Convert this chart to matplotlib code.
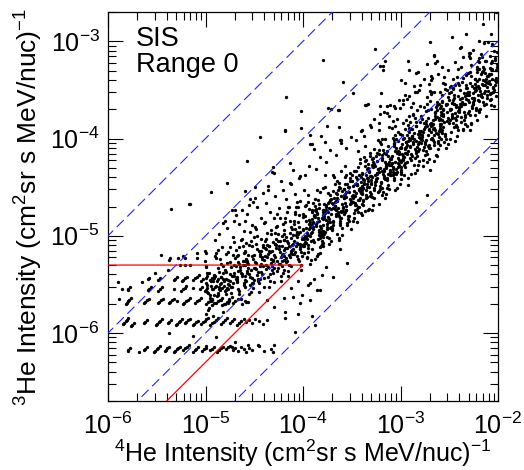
import matplotlib
matplotlib.use("Agg")
import matplotlib.pyplot as plt
import numpy as np
from matplotlib.ticker import LogLocator, NullFormatter

# all intensities below are log10 values x 100
# quantised low-count rows (3He floor)
floor_pts = [
    (-580, -618), (-579, -617), (-577, -615), (-568, -620), (-563, -617), (-562, -616), (-560, -614),
    (-553, -619), (-552, -618), (-550, -616), (-549, -615), (-547, -613), (-542, -618), (-541, -617),
    (-539, -615), (-537, -614), (-532, -619), (-531, -618), (-529, -616), (-528, -615), (-526, -614),
    (-523, -617), (-521, -615), (-519, -614), (-517, -612), (-513, -619), (-511, -617), (-510, -616),
    (-508, -614), (-504, -618), (-502, -616), (-500, -615), (-499, -613), (-495, -617), (-493, -616),
    (-491, -614), (-488, -619), (-486, -617), (-484, -615), (-482, -614), (-479, -616), (-477, -614),
    (-475, -613), (-472, -617), (-470, -615), (-467, -618), (-464, -614), (-461, -616), (-458, -619),
    (-455, -615), (-452, -617), (-445, -613), (-440, -618), (-433, -616), (-431, -619),
    (-537, -600), (-513, -603), (-489, -604), (-470, -609),
]
row1_pts = [
    (-585, -591), (-584, -590), (-582, -588), (-581, -587), (-579, -585), (-576, -593), (-575, -592),
    (-573, -590), (-563, -590), (-562, -589), (-560, -587), (-551, -592), (-550, -591), (-548, -589),
    (-547, -588), (-545, -586), (-538, -590), (-537, -589), (-535, -587), (-530, -592), (-529, -591),
    (-527, -589), (-526, -588), (-524, -586), (-521, -590), (-520, -589), (-518, -587), (-516, -586),
    (-513, -592), (-512, -591), (-510, -589), (-508, -588), (-505, -591), (-503, -589), (-501, -588),
    (-499, -586), (-497, -585), (-495, -592), (-493, -590), (-491, -589), (-489, -587), (-487, -585),
    (-484, -591), (-482, -589), (-480, -587), (-478, -585), (-475, -590), (-473, -588), (-471, -586),
    (-468, -592), (-466, -590), (-464, -588), (-461, -586), (-458, -589), (-455, -587), (-452, -590),
    (-449, -586), (-445, -588), (-441, -591), (-437, -587),
]
row2_pts = [
    (-582, -570), (-581, -569), (-579, -567), (-578, -566), (-576, -564), (-563, -569), (-562, -568),
    (-560, -566), (-558, -565), (-549, -569), (-548, -568), (-546, -566), (-544, -565), (-537, -569),
    (-536, -568), (-534, -566), (-532, -565), (-529, -567), (-523, -570), (-522, -569), (-520, -567),
    (-518, -566), (-516, -564), (-511, -569), (-509, -567), (-507, -566), (-505, -564), (-499, -570),
    (-497, -568), (-495, -567), (-493, -565), (-489, -569), (-487, -567), (-485, -566), (-483, -564),
    (-480, -570), (-478, -568), (-476, -566), (-472, -569), (-470, -567), (-467, -565), (-463, -570),
    (-460, -567), (-456, -568),
    (-580, -556), (-579, -555), (-577, -553), (-559, -556), (-558, -555), (-556, -553), (-549, -557),
    (-547, -555), (-545, -553), (-532, -555), (-525, -557), (-523, -555), (-521, -554), (-520, -552),
    (-513, -554), (-506, -555), (-504, -553), (-501, -557), (-500, -556), (-498, -554), (-492, -555),
    (-490, -553), (-485, -556), (-483, -554), (-481, -552), (-477, -555), (-474, -553),
    (-559, -544), (-558, -543), (-549, -545), (-547, -543), (-532, -545), (-531, -544), (-529, -542),
    (-524, -546), (-523, -545), (-521, -543), (-519, -542), (-513, -545), (-511, -543), (-509, -542),
    (-507, -540), (-505, -546), (-503, -544), (-500, -543), (-498, -541), (-495, -545), (-493, -543),
    (-491, -542), (-487, -544), (-484, -542),
    (-537, -525), (-528, -523), (-509, -523), (-501, -526), (-538, -535), (-521, -530), (-552, -538),
    (-516, -530), (-546, -520), (-565, -548), (-589, -565), (-586, -555), (-590, -548),
]

band_low = [
    (-498, -551), (-493, -566), (-491, -540), (-496, -574), (-494, -547), (-499, -532), (-492, -583),
    (-497, -559), (-490, -521), (-495, -561), (-498, -538), (-491, -569),
    (-482, -544), (-487, -561), (-484, -529), (-489, -552), (-481, -570), (-486, -537), (-483, -512),
    (-488, -546), (-480, -557), (-485, -524), (-482, -578), (-487, -533), (-484, -549), (-489, -518),
    (-473, -541), (-478, -554), (-471, -530), (-476, -567), (-479, -537), (-472, -549), (-475, -512),
    (-477, -545), (-470, -523), (-474, -559), (-478, -528), (-471, -506), (-476, -551), (-473, -563),
    (-479, -519), (-475, -539),
    (-465, -532), (-461, -549), (-468, -521), (-463, -541), (-466, -557), (-460, -526), (-469, -544),
    (-462, -510), (-467, -536), (-464, -565), (-461, -518), (-468, -547), (-463, -503), (-466, -529),
    (-460, -553), (-469, -515), (-464, -538), (-462, -526),
    (-456, -529), (-452, -543), (-459, -517), (-454, -551), (-451, -524), (-457, -538), (-453, -505),
    (-458, -547), (-450, -533), (-455, -560), (-452, -511), (-457, -526), (-454, -496), (-459, -541),
    (-451, -549), (-456, -520), (-453, -535), (-458, -507), (-450, -545),
    (-444, -521), (-448, -534), (-441, -512), (-446, -547), (-449, -527), (-442, -539), (-447, -500),
    (-443, -529), (-445, -516), (-440, -553), (-448, -508), (-442, -522), (-446, -537), (-449, -491),
    (-441, -531), (-444, -544), (-447, -514), (-443, -503), (-440, -525), (-445, -558),
    (-434, -517), (-438, -530), (-431, -506), (-436, -542), (-439, -521), (-432, -535), (-437, -497),
    (-433, -524), (-435, -511), (-430, -548), (-438, -503), (-432, -516), (-436, -532), (-439, -486),
    (-431, -526), (-434, -539), (-437, -509), (-433, -494), (-430, -520), (-435, -553), (-438, -514),
    (-425, -511), (-429, -522), (-422, -500), (-427, -536), (-420, -515), (-424, -529), (-428, -491),
    (-421, -519), (-426, -505), (-423, -541), (-429, -497), (-422, -510), (-427, -526), (-424, -482),
    (-420, -521), (-426, -533), (-428, -503), (-421, -488), (-425, -514), (-423, -547), (-429, -508),
    (-422, -531),
    (-416, -505), (-412, -518), (-419, -494), (-414, -530), (-411, -509), (-417, -523), (-413, -485),
    (-418, -513), (-410, -499), (-415, -536), (-412, -491), (-419, -504), (-414, -520), (-416, -476),
    (-411, -515), (-417, -527), (-413, -497), (-418, -482), (-410, -508), (-415, -541), (-412, -502),
    (-419, -525), (-414, -470),
    (-407, -499), (-403, -512), (-409, -488), (-405, -524), (-401, -503), (-408, -517), (-404, -479),
    (-406, -507), (-400, -493), (-402, -530), (-409, -485), (-405, -498), (-403, -514), (-407, -470),
    (-401, -509), (-406, -521), (-404, -491), (-408, -476), (-400, -502), (-402, -535), (-406, -496),
    (-409, -519), (-403, -464), (-405, -508),
    # second pass over the dense cluster
    (-498, -558), (-491, -543), (-494, -567), (-499, -531), (-497, -576), (-494, -552), (-495, -564),
    (-492, -546), (-500, -580), (-493, -555), (-496, -538), (-493, -571), (-500, -549), (-491, -561),
    (-490, -541), (-486, -555), (-482, -531), (-484, -566), (-485, -550), (-487, -559), (-489, -523),
    (-483, -571), (-481, -546), (-488, -562), (-482, -538), (-487, -515), (-486, -553), (-484, -542),
    (-475, -547), (-474, -532), (-479, -556), (-472, -520), (-476, -565), (-471, -541), (-473, -553),
    (-480, -535), (-477, -569), (-479, -544), (-475, -527), (-479, -560), (-471, -538), (-477, -550),
    (-462, -530), (-468, -544), (-467, -520), (-467, -555), (-463, -539), (-468, -548), (-466, -512),
    (-466, -560), (-465, -535), (-461, -551), (-467, -527), (-464, -504), (-468, -542), (-469, -531),
    (-457, -536), (-452, -521), (-460, -545), (-455, -509), (-451, -554), (-459, -530), (-454, -542),
    (-458, -524), (-453, -558), (-456, -533), (-460, -516), (-452, -549), (-457, -527), (-455, -539),
    (-444, -519), (-449, -533), (-441, -509), (-446, -544), (-448, -528), (-443, -537), (-450, -501),
    (-445, -549), (-442, -524), (-447, -540), (-443, -516), (-448, -493), (-444, -531), (-450, -520),
    (-431, -525), (-435, -510), (-438, -534), (-433, -498), (-440, -543), (-436, -519), (-432, -531),
    (-439, -513), (-434, -547), (-437, -522), (-439, -505), (-431, -538), (-435, -516), (-433, -528),
    (-429, -508), (-423, -522), (-426, -498), (-430, -533), (-424, -517), (-422, -526), (-427, -490),
    (-421, -538), (-428, -513), (-425, -529), (-424, -505), (-430, -482), (-422, -520), (-428, -509),
    (-416, -513), (-420, -498), (-413, -522), (-418, -486), (-412, -531), (-415, -507), (-411, -519),
    (-417, -501), (-419, -535), (-414, -510), (-411, -493), (-416, -526), (-419, -504), (-412, -516),
    (-403, -496), (-407, -510), (-405, -486), (-401, -521), (-409, -505), (-410, -514), (-408, -478),
    (-404, -526), (-406, -501), (-402, -517), (-408, -493), (-405, -470), (-403, -508), (-406, -497),
]

band_mid = [
    (-397, -492), (-392, -505), (-400, -481), (-395, -517), (-391, -496), (-399, -510), (-394, -472),
    (-398, -500), (-393, -486), (-396, -523), (-400, -478), (-392, -491), (-397, -507), (-395, -465),
    (-399, -503), (-391, -514), (-394, -484), (-398, -469), (-396, -497), (-393, -529), (-392, -489),
    (-400, -511), (-395, -458), (-397, -501), (-391, -476),
    (-384, -494), (-389, -479), (-381, -505), (-386, -486), (-388, -469), (-383, -512), (-390, -491),
    (-385, -482), (-382, -500), (-387, -475), (-383, -518), (-388, -462), (-384, -496), (-390, -487),
    (-381, -508), (-386, -453), (-389, -480), (-382, -492), (-385, -503), (-387, -472), (-388, -524),
    (-384, -485), (-390, -466), (-381, -498), (-386, -477), (-383, -490),
    (-371, -478), (-375, -491), (-378, -467), (-373, -502), (-380, -474), (-376, -484), (-372, -458),
    (-379, -495), (-374, -481), (-377, -450), (-379, -507), (-371, -472), (-375, -488), (-373, -465),
    (-378, -498), (-374, -476), (-380, -511), (-376, -470), (-372, -486), (-377, -438), (-375, -493),
    (-371, -462), (-373, -483), (-379, -479), (-380, -501), (-378, -473),
    (-369, -467), (-363, -480), (-366, -456), (-370, -492), (-364, -471), (-362, -485), (-367, -447),
    (-361, -475), (-368, -461), (-365, -498), (-364, -453), (-370, -466), (-362, -482), (-368, -440),
    (-366, -478), (-369, -489), (-361, -459), (-365, -444), (-367, -472), (-363, -504), (-366, -464),
    (-369, -486), (-361, -433), (-364, -476), (-362, -451), (-367, -469),
    (-356, -469), (-360, -454), (-353, -480), (-358, -461), (-352, -444), (-355, -487), (-351, -466),
    (-357, -457), (-359, -475), (-354, -450), (-351, -493), (-356, -437), (-359, -471), (-352, -462),
    (-354, -483), (-357, -428), (-353, -455), (-360, -467), (-358, -478), (-355, -447), (-360, -499),
    (-357, -460), (-352, -441), (-356, -473), (-358, -452), (-351, -465),
    (-343, -453), (-347, -466), (-345, -442), (-341, -477), (-349, -449), (-350, -459), (-348, -433),
    (-344, -470), (-346, -456), (-342, -425), (-348, -482), (-345, -447), (-343, -463), (-346, -440),
    (-347, -473), (-342, -451), (-345, -486), (-341, -445), (-349, -461), (-344, -413), (-347, -468),
    (-343, -437), (-349, -458), (-342, -454), (-344, -476), (-345, -448),
    (-338, -442), (-331, -455), (-334, -431), (-339, -467), (-337, -446), (-334, -460), (-335, -422),
    (-332, -450), (-340, -436), (-333, -473), (-336, -428), (-333, -441), (-340, -457), (-331, -415),
    (-335, -453), (-338, -464), (-332, -434), (-337, -419), (-334, -447), (-340, -479), (-331, -439),
    (-335, -461), (-336, -408), (-338, -451), (-333, -426),
    (-330, -443), (-326, -428), (-322, -454), (-324, -435), (-325, -418), (-327, -461), (-329, -440),
    (-323, -431), (-321, -449), (-328, -424), (-322, -467), (-327, -411), (-326, -445), (-324, -436),
    (-330, -457), (-323, -402), (-328, -429), (-324, -441), (-321, -452), (-329, -421), (-329, -473),
    (-322, -434), (-324, -415), (-330, -447), (-327, -426),
    (-315, -428), (-314, -441), (-319, -417), (-312, -452), (-316, -424), (-311, -434), (-313, -408),
    (-320, -445), (-317, -431), (-319, -400), (-315, -457), (-319, -422), (-311, -438), (-317, -415),
    (-313, -448), (-315, -426), (-316, -461), (-319, -420), (-313, -436), (-312, -388), (-314, -443),
    (-318, -412), (-317, -433), (-315, -429), (-319, -451),
    (-302, -416), (-308, -429), (-307, -405), (-307, -441), (-303, -420), (-308, -434), (-306, -396),
    (-306, -424), (-305, -410), (-301, -447), (-307, -402), (-304, -415), (-308, -431), (-309, -389),
    (-302, -427), (-310, -438), (-307, -408), (-303, -393), (-310, -421), (-306, -453), (-303, -413),
    (-306, -435), (-308, -382), (-303, -425), (-305, -400),
    # second pass
    (-393, -500), (-397, -485), (-395, -509), (-391, -473), (-399, -518), (-400, -494), (-398, -506),
    (-394, -488), (-396, -522), (-392, -497), (-398, -480), (-395, -513), (-393, -491), (-396, -503),
    (-397, -468), (-392, -525), (-395, -499), (-391, -483), (-399, -508), (-394, -493),
    (-388, -481), (-381, -495), (-384, -471), (-389, -506), (-387, -490), (-384, -499), (-385, -463),
    (-382, -511), (-390, -486), (-383, -502), (-386, -478), (-383, -455), (-390, -493), (-381, -482),
    (-385, -519), (-388, -474), (-382, -497), (-387, -488), (-384, -467), (-390, -504),
    (-380, -483), (-376, -468), (-372, -492), (-374, -456), (-375, -501), (-377, -477), (-379, -489),
    (-373, -471), (-371, -505), (-378, -480), (-372, -463), (-377, -496), (-376, -474), (-374, -486),
    (-380, -451), (-373, -508), (-378, -482), (-374, -466), (-371, -491), (-379, -476),
    (-365, -464), (-364, -478), (-369, -454), (-362, -489), (-366, -473), (-361, -482), (-363, -446),
    (-370, -494), (-367, -469), (-369, -485), (-365, -461), (-369, -438), (-361, -476), (-367, -465),
    (-363, -502), (-365, -457), (-366, -480), (-369, -471), (-363, -450), (-362, -487),
    (-352, -467), (-358, -452), (-357, -476), (-357, -440), (-353, -485), (-358, -461), (-356, -473),
    (-356, -455), (-355, -489), (-351, -464), (-357, -447), (-354, -480), (-358, -458), (-359, -470),
    (-352, -435), (-360, -492), (-357, -466), (-353, -450), (-360, -475), (-356, -460),
    (-347, -447), (-342, -461), (-350, -437), (-345, -472), (-341, -456), (-349, -465), (-344, -429),
    (-348, -477), (-343, -452), (-346, -468), (-350, -444), (-342, -421), (-347, -459), (-345, -448),
    (-349, -485), (-341, -440), (-344, -463), (-348, -454), (-346, -433), (-343, -470),
    (-334, -450), (-339, -435), (-331, -459), (-336, -423), (-338, -468), (-333, -444), (-340, -456),
    (-335, -438), (-332, -472), (-337, -447), (-333, -430), (-338, -463), (-334, -441), (-340, -453),
    (-331, -418), (-336, -475), (-339, -449), (-332, -433), (-335, -458), (-337, -443),
    (-321, -430), (-325, -444), (-328, -420), (-323, -455), (-330, -439), (-326, -448), (-322, -412),
    (-329, -460), (-324, -435), (-327, -451), (-329, -427), (-321, -404), (-325, -442), (-323, -431),
    (-328, -468), (-324, -423), (-330, -446), (-326, -437), (-322, -416), (-327, -453),
    (-319, -433), (-313, -418), (-316, -442), (-320, -406), (-314, -451), (-312, -427), (-317, -439),
    (-311, -421), (-318, -455), (-315, -430), (-314, -413), (-320, -446), (-312, -424), (-318, -436),
    (-316, -401), (-319, -458), (-311, -432), (-315, -416), (-317, -441), (-313, -426),
    (-306, -413), (-310, -427), (-303, -403), (-308, -438), (-302, -422), (-305, -431), (-301, -395),
    (-307, -443), (-309, -418), (-304, -434), (-301, -410), (-306, -387), (-309, -425), (-302, -414),
    (-304, -451), (-307, -406), (-303, -429), (-310, -420), (-308, -399), (-305, -436),
]

band_high = [
    (-297, -418), (-292, -403), (-300, -429), (-295, -410), (-291, -393), (-299, -436), (-294, -415),
    (-298, -406), (-293, -424), (-296, -399), (-300, -442), (-292, -386), (-297, -420), (-295, -411),
    (-299, -432), (-291, -377), (-294, -404), (-298, -416), (-296, -427), (-293, -396), (-292, -448),
    (-300, -409), (-295, -390), (-297, -422),
    (-284, -403), (-289, -416), (-281, -392), (-286, -427), (-288, -399), (-283, -409), (-290, -383),
    (-285, -420), (-282, -406), (-287, -375), (-283, -432), (-288, -397), (-284, -413), (-290, -390),
    (-281, -423), (-286, -401), (-289, -436), (-282, -395), (-285, -411), (-287, -363), (-288, -418),
    (-284, -387), (-290, -408), (-281, -404),
    (-271, -391), (-275, -404), (-278, -380), (-273, -416), (-280, -395), (-276, -409), (-272, -371),
    (-279, -399), (-274, -385), (-277, -422), (-279, -377), (-271, -390), (-275, -406), (-273, -364),
    (-278, -402), (-274, -413), (-280, -383), (-276, -368), (-272, -396), (-277, -428), (-275, -388),
    (-271, -410), (-273, -357), (-279, -400),
    (-269, -393), (-263, -378), (-266, -404), (-270, -385), (-264, -368), (-262, -411), (-267, -390),
    (-261, -381), (-268, -399), (-265, -374), (-264, -417), (-270, -361), (-262, -395), (-268, -386),
    (-266, -407), (-269, -352), (-261, -379), (-265, -391), (-267, -402), (-263, -371), (-266, -423),
    (-269, -384), (-261, -365),
    (-256, -377), (-260, -390), (-253, -366), (-258, -401), (-252, -373), (-255, -383), (-251, -357),
    (-257, -394), (-259, -380), (-254, -349), (-251, -406), (-256, -371), (-259, -387), (-252, -364),
    (-254, -397), (-257, -375), (-253, -410), (-260, -369), (-258, -385), (-255, -337), (-260, -392),
    (-257, -361),
    (-243, -366), (-247, -379), (-245, -355), (-241, -391), (-249, -370), (-250, -384), (-248, -346),
    (-244, -374), (-246, -360), (-242, -397), (-248, -352), (-245, -365), (-243, -381), (-246, -339),
    (-247, -377), (-242, -388), (-245, -358), (-241, -343), (-249, -371), (-244, -403), (-247, -363),
    (-238, -367), (-231, -352), (-234, -378), (-239, -359), (-237, -342), (-234, -385), (-235, -364),
    (-232, -355), (-240, -373), (-233, -348), (-236, -391), (-233, -335), (-240, -369), (-231, -360),
    (-235, -381), (-238, -326), (-232, -353), (-237, -365), (-234, -376), (-240, -345),
    (-230, -352), (-226, -365), (-222, -341), (-224, -376), (-225, -348), (-227, -358), (-229, -332),
    (-223, -369), (-221, -355), (-228, -324), (-222, -381), (-227, -346), (-226, -362), (-224, -339),
    (-230, -372), (-223, -350), (-228, -385), (-224, -344), (-221, -360), (-229, -312),
    (-215, -340), (-214, -353), (-219, -329), (-212, -365), (-216, -344), (-211, -358), (-213, -320),
    (-220, -348), (-217, -334), (-219, -371), (-215, -326), (-219, -339), (-211, -355), (-217, -313),
    (-213, -351), (-215, -362), (-216, -332), (-219, -317), (-213, -345), (-212, -377),
    (-202, -342), (-208, -327), (-207, -353), (-207, -334), (-203, -317), (-208, -360), (-206, -339),
    (-206, -330), (-205, -348), (-201, -323), (-207, -366), (-204, -310), (-208, -344), (-209, -335),
    (-202, -356), (-210, -301), (-207, -328), (-203, -340), (-210, -351), (-206, -320),
    # second pass
    (-293, -416), (-297, -401), (-295, -425), (-291, -389), (-299, -434), (-300, -410), (-298, -422),
    (-294, -404), (-296, -438), (-292, -413), (-298, -396), (-295, -429), (-293, -407), (-296, -419),
    (-297, -384), (-292, -441), (-295, -415), (-291, -399), (-299, -424), (-294, -409),
    (-288, -397), (-281, -411), (-284, -387), (-289, -422), (-287, -406), (-284, -415), (-285, -379),
    (-282, -427), (-290, -402), (-283, -418), (-286, -394), (-283, -371), (-290, -409), (-281, -398),
    (-285, -435), (-288, -390), (-282, -413), (-287, -404), (-284, -383), (-290, -420),
    (-280, -399), (-276, -384), (-272, -408), (-274, -372), (-275, -417), (-277, -393), (-279, -405),
    (-273, -387), (-271, -421), (-278, -396), (-272, -379), (-277, -412), (-276, -390), (-274, -402),
    (-280, -367), (-273, -424), (-278, -398), (-274, -382), (-271, -407), (-279, -392),
    (-265, -380), (-264, -394), (-269, -370), (-262, -405), (-266, -389), (-261, -398), (-263, -362),
    (-270, -410), (-267, -385), (-269, -401), (-265, -377), (-269, -354), (-261, -392), (-267, -381),
    (-263, -418), (-265, -373), (-266, -396), (-269, -387), (-263, -366), (-262, -403),
    (-252, -382), (-258, -367), (-257, -391), (-257, -355), (-253, -400), (-258, -376), (-256, -388),
    (-256, -370), (-255, -404), (-251, -379), (-257, -362), (-254, -395), (-258, -373), (-259, -385),
    (-252, -350), (-260, -407), (-257, -381), (-253, -365), (-260, -390), (-256, -375),
    (-247, -363), (-242, -377), (-250, -353), (-245, -388), (-241, -372), (-249, -381), (-244, -345),
    (-248, -393), (-243, -368), (-246, -384), (-250, -360), (-242, -337), (-247, -375), (-245, -364),
    (-249, -401), (-241, -356), (-244, -379), (-248, -370), (-246, -349), (-243, -386),
    (-234, -365), (-239, -350), (-231, -374), (-236, -338), (-238, -383), (-233, -359), (-240, -371),
    (-235, -353), (-232, -387), (-237, -362), (-233, -345), (-238, -378), (-234, -356), (-240, -368),
    (-231, -333), (-236, -390), (-239, -364), (-232, -348), (-235, -373), (-237, -358),
    (-221, -346), (-225, -360), (-228, -336), (-223, -371), (-230, -355), (-226, -364), (-222, -328),
    (-229, -376), (-224, -351), (-227, -367), (-229, -343), (-221, -320), (-225, -358), (-223, -347),
    (-228, -384), (-224, -339), (-230, -362), (-226, -353), (-222, -332), (-227, -369),
    (-219, -348), (-213, -333), (-216, -357), (-220, -321), (-214, -366), (-212, -342), (-217, -354),
    (-211, -336), (-218, -370), (-215, -345), (-214, -328), (-220, -361), (-212, -339), (-218, -351),
    (-216, -316), (-219, -373), (-211, -347), (-215, -331), (-217, -356), (-213, -341),
    (-206, -329), (-210, -343), (-203, -319), (-208, -354), (-202, -338), (-205, -347), (-201, -311),
    (-207, -359), (-209, -334), (-204, -350), (-201, -326), (-206, -303), (-209, -341), (-202, -330),
    (-204, -367), (-207, -322), (-203, -345), (-210, -336), (-208, -315), (-205, -352),
]

# sparse points above the band (up to the 1:1 line) and outliers
halo_pts = [
    (-535, -472), (-516, -467), (-494, -455), (-478, -446), (-457, -423), (-444, -398), (-418, -392),
    (-459, -454), (-454, -462), (-449, -450), (-441, -456), (-436, -453), (-432, -434), (-413, -425),
    (-413, -446), (-403, -439), (-399, -453), (-393, -406), (-389, -411), (-473, -473), (-482, -487),
    (-459, -485), (-490, -504), (-501, -516), (-523, -521), (-536, -523), (-477, -517), (-517, -467),
    (-480, -485), (-471, -485), (-470, -473), (-451, -465), (-430, -435), (-431, -429), (-509, -518),
    (-521, -523), (-526, -530), (-499, -518),
    (-417, -357), (-418, -391), (-402, -372), (-402, -389), (-393, -396), (-391, -406), (-382, -397),
    (-379, -319), (-377, -404), (-375, -387), (-374, -369), (-371, -370), (-363, -371), (-363, -388),
    (-361, -402), (-359, -342), (-349, -353), (-335, -366), (-333, -364), (-326, -308), (-321, -325),
    (-318, -330), (-318, -325), (-316, -320), (-320, -353), (-314, -367), (-314, -374), (-307, -367),
    (-299, -340), (-292, -320), (-291, -330), (-295, -355), (-297, -360), (-289, -368), (-282, -332),
    (-280, -345), (-270, -301), (-269, -336), (-269, -340), (-270, -351), (-266, -314), (-263, -320),
    (-259, -352), (-247, -296), (-239, -307), (-233, -293), (-230, -312), (-230, -315), (-215, -282),
    (-214, -302), (-212, -320), (-202, -270),
    (-238, -306), (-266, -315), (-229, -317), (-273, -323), (-265, -322), (-241, -329), (-222, -326),
    (-268, -338), (-256, -343), (-254, -344), (-249, -347), (-246, -348), (-285, -352), (-266, -352),
    (-294, -381), (-295, -343), (-284, -333), (-283, -352), (-293, -359), (-336, -366), (-321, -367),
    (-311, -366), (-301, -369), (-362, -402), (-340, -391), (-330, -388), (-322, -391), (-304, -380),
    (-287, -376), (-321, -375), (-364, -371),
    (-478, -492), (-472, -501), (-466, -488), (-461, -495), (-457, -478), (-452, -489), (-447, -470),
    (-443, -482), (-438, -466), (-434, -476), (-429, -459), (-425, -471), (-421, -453), (-417, -462),
    (-412, -447), (-408, -457), (-404, -441), (-486, -498), (-469, -479), (-455, -468), (-440, -487),
    (-427, -478), (-415, -470), (-406, -465), (-463, -473), (-449, -461), (-436, -449), (-423, -444),
    (-410, -432), (-398, -437), (-394, -428), (-387, -431), (-383, -419), (-376, -424), (-372, -412),
    (-366, -417), (-361, -405), (-356, -410), (-351, -398), (-346, -402), (-341, -392), (-337, -397),
    (-331, -386), (-327, -380), (-322, -384), (-317, -373), (-312, -377), (-306, -369), (-302, -360),
    (-297, -364), (-291, -356), (-286, -346), (-281, -350), (-276, -339), (-271, -344), (-262, -334),
    (-257, -326), (-251, -330), (-244, -321), (-236, -316), (-226, -309), (-219, -300), (-207, -293),
]

# points under the band
below_pts = [
    (-273, -458), (-284, -465), (-229, -391), (-270, -432), (-418, -585), (-405, -580), (-391, -583),
    (-408, -599), (-388, -592), (-430, -612), (-446, -612), (-456, -612), (-473, -614), (-418, -578),
    (-420, -564), (-401, -561), (-395, -551), (-389, -544), (-381, -540), (-405, -547), (-412, -554),
    (-458, -568), (-437, -566), (-430, -573), (-410, -563), (-403, -569), (-393, -566), (-386, -556),
    (-393, -549), (-383, -556), (-369, -542), (-376, -532), (-362, -514), (-355, -528), (-386, -521),
]

ratios = [10, 1, 0.1, 0.01]          # dashed 3He/4He reference lines
cut_x = [1e-6, 1e-4, 4e-6]           # selection boundary (red)
cut_y = [5e-6, 5e-6, 2e-7]

plt.rcParams['font.family'] = ['Liberation Sans', 'DejaVu Sans']
plt.rcParams['mathtext.fontset'] = 'custom'
plt.rcParams['mathtext.rm'] = 'Liberation Sans'
plt.rcParams['mathtext.it'] = 'Liberation Sans:italic'
plt.rcParams['mathtext.bf'] = 'Liberation Sans:bold'

fig = plt.figure(figsize=(5.24, 4.70), dpi=100)
ax = fig.add_axes([108 / 524, 69 / 470, 390 / 524, 389 / 470])

pts = np.array(floor_pts + row1_pts + row2_pts + band_low + band_mid + band_high + halo_pts + below_pts)
x = 10 ** (pts[:, 0] / 100.0)
y = 10 ** (pts[:, 1] / 100.0)
ax.plot(x, y, 'o', ms=2.4, mew=0, color='black', zorder=2)

xl = np.array([1e-7, 1e-1])
for r in ratios:
    ax.plot(xl, r * xl, color='#2222ff', lw=0.8, dashes=(9, 4.5), zorder=3)

ax.plot(cut_x, cut_y, color='red', lw=0.9, zorder=4)

ax.set_xscale('log')
ax.set_yscale('log')
ax.set_xlim(1e-6, 1e-2)
ax.set_ylim(2e-7, 2e-3)

for axis in (ax.xaxis, ax.yaxis):
    axis.set_major_locator(LogLocator(base=10))
    axis.set_minor_locator(LogLocator(base=10, subs=np.arange(2, 10)))
    axis.set_minor_formatter(NullFormatter())

ax.tick_params(which='both', direction='in', top=True, right=True, width=0.8, labelsize=18)
ax.tick_params(which='major', length=11)
ax.tick_params(which='minor', length=5.5)
ax.tick_params(axis='x', pad=8)
ax.tick_params(axis='y', pad=6)
for s in ax.spines.values():
    s.set_linewidth(0.9)

ax.set_xlabel('$^4$He Intensity (cm$^2$sr s MeV/nuc)$^{-1}$', fontsize=18, labelpad=-1)
ax.set_ylabel('$^3$He Intensity (cm$^2$sr s MeV/nuc)$^{-1}$', fontsize=19, labelpad=4)

ax.text(0.072, 0.965, 'SIS\nRange 0', transform=ax.transAxes, fontsize=19.5,
        va='top', ha='left', linespacing=1.0)

fig.savefig('out.png', dpi=100)
